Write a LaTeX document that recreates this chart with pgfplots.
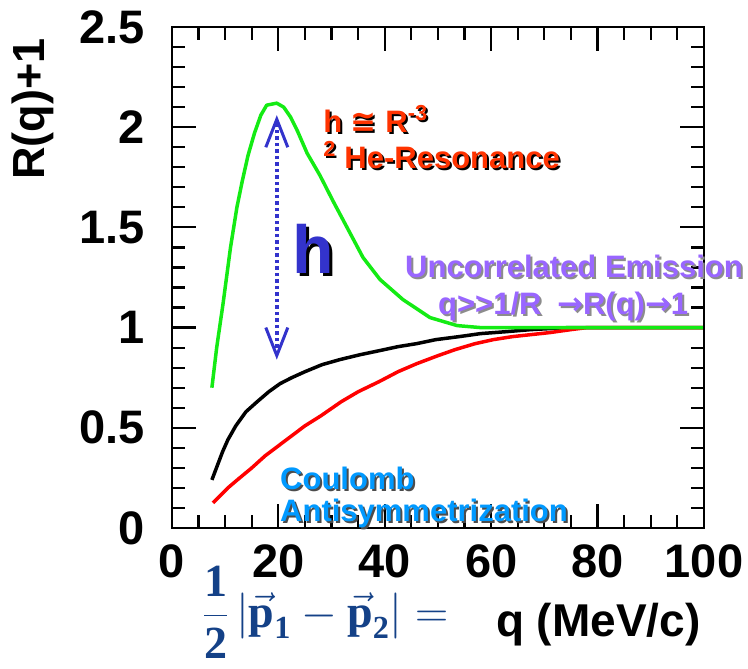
\RequirePackage{fix-cm}
\documentclass[border=0pt]{standalone}
\usepackage{amsmath}
\usepackage{fontspec}
\setmainfont{Liberation Sans}
\newfontfamily\dejavu{DejaVu Sans}
\newfontfamily\timesf{Liberation Serif}
\usepackage{pgfplots}
\pgfplotsset{compat=1.18}
\usetikzlibrary{arrows.meta}

\definecolor{cgreen}{RGB}{20,235,20}
\definecolor{cred}{RGB}{255,0,0}
\definecolor{tred}{RGB}{255,51,0}
\definecolor{tpurple}{RGB}{153,102,255}
\definecolor{tcyan}{RGB}{0,153,255}
\definecolor{hblue}{RGB}{51,51,204}
\definecolor{fblue}{RGB}{20,65,135}

\newcommand{\fs}[1]{\fontsize{#1}{#1}\selectfont}
\newcommand{\tb}[1]{\text{\timesf\bfseries #1}}
% text with a drop shadow: colour, shadow colour, x, y, text
\newcommand{\shtext}[5]{%
  \node[anchor=base west,inner sep=0pt,text=#2,font=\bfseries\fs{31}]
    at ([shift={(2pt,-2pt)}]axis cs:#3,#4) {#5};
  \node[anchor=base west,inner sep=0pt,text=#1,font=\bfseries\fs{31}]
    at (axis cs:#3,#4) {#5};}

\begin{document}
\begin{tikzpicture}
\begin{axis}[
    scale only axis,
    width=532pt, height=501pt,
    xmin=0, xmax=100, ymin=0, ymax=2.5,
    xtick={0,20,...,100}, ytick={0,0.5,...,2.5},
    xticklabels={0,20,40,60,80,100},
    yticklabels={0,0.5,1,1.5,2,2.5},
    minor x tick num=3, minor y tick num=4,
    tick align=inside,
    major tick length=24pt, minor tick length=13pt,
    tick style={black, line width=2.2pt},
    xticklabel style={font=\bfseries\fs{47}, inner sep=0pt, anchor=north, yshift=-16pt},
    yticklabel style={font=\bfseries\fs{47}, inner sep=0pt, anchor=east, xshift=-27pt},
    clip=false,
    ylabel={R(q)+1},
    ylabel style={at={(rel axis cs:-0.261,0.836)}, anchor=center, font=\bfseries\fs{45}},
    xlabel={q (MeV/c)},
    xlabel style={at={(rel axis cs:1,0)}, anchor=base east, yshift=-109pt, font=\bfseries\fs{46}},
]
\coordinate (sw) at (rel axis cs:0,0);

% antisymmetrization + Coulomb
\addplot[black, line width=3.5pt, line join=round] coordinates {
  (7.5,0.24)(8.5,0.31)(9.5,0.38)(10.5,0.44)(12,0.51)(13.9,0.58)(16,0.63)
  (18.2,0.68)(20.3,0.72)(22.5,0.75)(25,0.78)(28.2,0.815)(31.5,0.84)(35.4,0.865)
  (39,0.885)(42.5,0.905)(46,0.92)(49.6,0.94)(54,0.955)(58,0.97)(63,0.98)
  (67.5,0.99)(74.6,1.0)(100,1.0)};
\addplot[cred, line width=3.5pt, line join=round] coordinates {
  (7.7,0.125)(9,0.16)(10.5,0.20)(12.5,0.245)(15,0.30)(17.5,0.36)(20,0.41)
  (22.5,0.46)(25,0.51)(28,0.56)(31.8,0.63)(35,0.68)(38.9,0.73)(42.5,0.78)
  (46,0.82)(50,0.86)(53.2,0.89)(57,0.92)(60.4,0.94)(64,0.955)(67.5,0.965)
  (71,0.975)(75,0.99)(78,1.0)(100,1.0)};
% resonance
\addplot[cgreen, line width=3.5pt, line join=round] coordinates {
  (7.5,0.70)(8.4,0.90)(9.6,1.12)(11,1.40)(12.2,1.60)(13.2,1.73)(14.3,1.86)
  (15.5,1.97)(16.7,2.06)(17.8,2.11)(19.7,2.12)(21,2.10)(22.3,2.05)(23.6,1.98)
  (25.4,1.87)(27.8,1.76)(30.3,1.63)(32.9,1.50)(35.9,1.35)(39.1,1.24)(43.4,1.14)
  (48.5,1.05)(53.6,1.01)(58,1.0)(100,1.0)};

% heavy frame
\draw[black, line width=2.8pt] (rel axis cs:0,0) rectangle (rel axis cs:1,1);

\draw[hblue, line width=3.5pt, dash pattern=on 3.5pt off 3pt,
  {Straight Barb[length=28pt,width=22pt,line width=3pt]}-{Straight Barb[length=28pt,width=22pt,line width=3pt]}]
  (axis cs:19.7,0.84) -- (axis cs:19.7,2.06);

\node[anchor=base west,inner sep=0pt,text=black,font=\bfseries\fs{68}]
  at ([shift={(3pt,-3pt)}]axis cs:22.6,1.27) {h};
\node[anchor=base west,inner sep=0pt,text=hblue,font=\bfseries\fs{68}]
  at (axis cs:22.6,1.27) {h};

\shtext{tred}{black}{28.4}{1.976}{h {\dejavu\bfseries ≅} R\textsuperscript{-3}}
\shtext{tred}{black}{28.4}{1.796}{\textsuperscript{2} He-Resonance}
\shtext{tpurple}{black!45}{43.8}{1.2475}{Uncorrelated Emission}
\shtext{tpurple}{black!45}{50.0}{1.063}{q>{}>1/R\enspace{\dejavu\bfseries →}R(q){\dejavu\bfseries →}1}
\shtext{tcyan}{black!70}{20.3}{0.19}{Coulomb}
\shtext{tcyan}{black!70}{20.3}{0.03}{Antisymmetrization}

\node[anchor=west,inner sep=0pt,text=fblue,font=\fs{46}] at (axis cs:5.8,-0.42)
  {$\displaystyle\frac{\tb{1}}{\tb{2}}\left|\vec{\tb{p}}_{\tb{1}}-\vec{\tb{p}}_{\tb{2}}\right|=$};
\end{axis}
\path (sw) ++(-172pt,-141pt) rectangle ++(748pt,669pt);
\end{tikzpicture}
\end{document}
